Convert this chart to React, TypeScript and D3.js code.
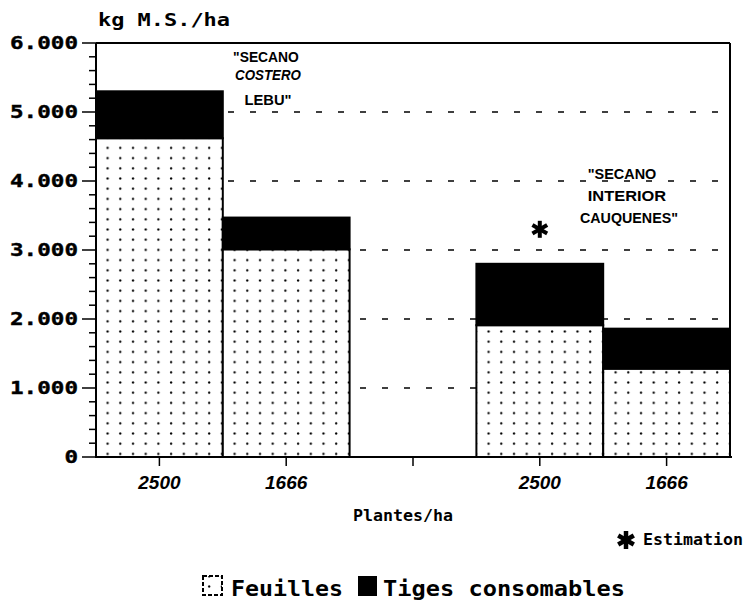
import React, { useEffect, useRef } from 'react';
import * as d3 from 'd3';

const categories = ['c1', 'c2', 'gap', 'c3', 'c4'];
const tickLabels = ['2500', '1666', '', '2500', '1666'];
const feuilles = [4620, 3010, null, 1910, 1280];
const totals = [5300, 3470, null, 2800, 1860];
const yTicks = [0, 1000, 2000, 3000, 4000, 5000, 6000];
const yTickLabels = ['0', '1.000', '2.000', '3.000', '4.000', '5.000', '6.000'];
const estimationValue = 3300;

const W = 747;
const H = 604;
const MONO = '"DejaVu Sans Mono", monospace';
const SANS = '"Liberation Sans", Arial, sans-serif';

function drawStar(g: d3.Selection<SVGGElement, unknown, null, undefined>, x: number, y: number, r: number, w: number) {
  const s = g.append('g').attr('transform', `translate(${x},${y})`);
  [90, 30, -30].forEach((a) => {
    const rad = (a * Math.PI) / 180;
    s.append('line')
      .attr('x1', -r * Math.cos(rad))
      .attr('y1', -r * Math.sin(rad))
      .attr('x2', r * Math.cos(rad))
      .attr('y2', r * Math.sin(rad))
      .attr('stroke', '#000')
      .attr('stroke-width', w);
  });
}

const App: React.FC = () => {
  const svgRef = useRef<SVGSVGElement>(null);

  useEffect(() => {
    if (!svgRef.current) return;
    const svg = d3.select(svgRef.current);
    svg.selectAll('*').remove();

    const left = 96;
    const right = 730;
    const top = 43;
    const bottom = 457;

    // dotted pattern for leaves
    const defs = svg.append('defs');
    const pat = defs
      .append('pattern')
      .attr('id', 'dots')
      .attr('patternUnits', 'userSpaceOnUse')
      .attr('width', 12.7)
      .attr('height', 10.2);
    pat.append('rect').attr('width', 12.7).attr('height', 10.2).attr('fill', '#fff');
    pat.append('circle').attr('cx', 6).attr('cy', 5).attr('r', 1.15).attr('fill', '#000');

    const g = svg.append('g');

    const xScale = d3.scaleBand<string>().domain(categories).range([left, right]).padding(0);
    const yScale = d3.scaleLinear().domain([0, 6000]).range([bottom, top]);

    // dashed gridlines
    g.selectAll('.grid')
      .data(yTicks.filter((d) => d > 0 && d < 6000))
      .enter()
      .append('line')
      .attr('x1', left)
      .attr('x2', right)
      .attr('y1', (d) => yScale(d))
      .attr('y2', (d) => yScale(d))
      .attr('stroke', '#000')
      .attr('stroke-width', 1.5)
      .attr('stroke-dasharray', '6,16');

    // bars
    categories.forEach((c, i) => {
      const f = feuilles[i];
      const t = totals[i];
      if (f === null || t === null) return;
      const x = xScale(c)!;
      const bw = xScale.bandwidth();
      g.append('rect')
        .attr('x', x)
        .attr('y', yScale(f))
        .attr('width', bw)
        .attr('height', yScale(0) - yScale(f))
        .attr('fill', 'url(#dots)')
        .attr('stroke', '#000')
        .attr('stroke-width', 2);
      g.append('rect')
        .attr('x', x)
        .attr('y', yScale(t))
        .attr('width', bw)
        .attr('height', yScale(f) - yScale(t))
        .attr('fill', '#000')
        .attr('stroke', '#000')
        .attr('stroke-width', 2);
    });

    // frame
    g.append('line').attr('x1', left).attr('x2', right).attr('y1', top).attr('y2', top)
      .attr('stroke', '#000').attr('stroke-width', 2);
    g.append('line').attr('x1', right).attr('x2', right).attr('y1', top).attr('y2', bottom)
      .attr('stroke', '#000').attr('stroke-width', 2);
    g.append('line').attr('x1', left).attr('x2', right + 2).attr('y1', bottom).attr('y2', bottom)
      .attr('stroke', '#000').attr('stroke-width', 2);
    g.append('line').attr('x1', left).attr('x2', left).attr('y1', top).attr('y2', bottom)
      .attr('stroke', '#000').attr('stroke-width', 2);

    // y ticks, major and minor
    const minor = d3.range(0, 6001, 200).filter((d) => d % 1000 !== 0);
    g.selectAll('.minor')
      .data(minor)
      .enter()
      .append('line')
      .attr('x1', left - 7)
      .attr('x2', left)
      .attr('y1', (d) => yScale(d))
      .attr('y2', (d) => yScale(d))
      .attr('stroke', '#000')
      .attr('stroke-width', 1.5);
    g.selectAll('.major')
      .data(yTicks)
      .enter()
      .append('line')
      .attr('x1', left - 14)
      .attr('x2', left)
      .attr('y1', (d) => yScale(d))
      .attr('y2', (d) => yScale(d))
      .attr('stroke', '#000')
      .attr('stroke-width', 1.5);
    g.selectAll('.ylab')
      .data(yTicks)
      .enter()
      .append('text')
      .attr('x', 78)
      .attr('y', (d) => yScale(d))
      .attr('dy', '0.36em')
      .attr('text-anchor', 'end')
      .attr('font-family', MONO)
      .attr('font-weight', 'bold')
      .attr('font-size', 18)
      .attr('stroke', '#000')
      .attr('stroke-width', 0.4)
      .attr('textLength', (d, i) => yTickLabels[i].length * 13.6)
      .attr('lengthAdjust', 'spacingAndGlyphs')
      .text((d, i) => yTickLabels[i]);

    // x ticks
    categories.forEach((c, i) => {
      const cx = xScale(c)! + xScale.bandwidth() / 2;
      g.append('line').attr('x1', cx).attr('x2', cx).attr('y1', bottom).attr('y2', bottom + 9)
        .attr('stroke', '#000').attr('stroke-width', 1.5);
      if (tickLabels[i]) {
        g.append('text')
          .attr('x', cx)
          .attr('y', 489)
          .attr('text-anchor', 'middle')
          .attr('font-family', SANS)
          .attr('font-weight', 'bold')
          .attr('font-style', 'italic')
          .attr('font-size', 19)
          .text(tickLabels[i]);
      }
    });

    // axis titles
    g.append('text')
      .attr('x', 98)
      .attr('y', 26)
      .attr('font-family', MONO)
      .attr('font-weight', 'bold')
      .attr('font-size', 17)
      .attr('textLength', 132)
      .attr('lengthAdjust', 'spacingAndGlyphs')
      .text('kg M.S./ha');
    g.append('text')
      .attr('x', 353)
      .attr('y', 521)
      .attr('font-family', MONO)
      .attr('font-weight', 'bold')
      .attr('font-size', 15)
      .attr('textLength', 100)
      .attr('lengthAdjust', 'spacingAndGlyphs')
      .text('Plantes/ha');

    // region annotations
    const ann1 = [
      { t: '"SECANO', x: 266, y: 62, it: false },
      { t: 'COSTERO', x: 268, y: 80, it: true },
      { t: 'LEBU"', x: 268, y: 105, it: false },
    ];
    ann1.forEach((a) => {
      g.append('text')
        .attr('x', a.x)
        .attr('y', a.y)
        .attr('text-anchor', 'middle')
        .attr('font-family', SANS)
        .attr('font-weight', 'bold')
        .attr('font-style', a.it ? 'italic' : 'normal')
        .attr('font-size', 15)
        .attr('textLength', a.t.length * 9.4)
        .attr('lengthAdjust', 'spacingAndGlyphs')
        .text(a.t);
    });
    const ann2 = [
      { t: '"SECANO', x: 622, y: 179 },
      { t: 'INTERIOR', x: 627, y: 201 },
      { t: 'CAUQUENES"', x: 629, y: 223 },
    ];
    ann2.forEach((a) => {
      g.append('text')
        .attr('x', a.x)
        .attr('y', a.y)
        .attr('text-anchor', 'middle')
        .attr('font-family', SANS)
        .attr('font-weight', 'bold')
        .attr('font-size', 15)
        .attr('textLength', a.t.length * 9.8)
        .attr('lengthAdjust', 'spacingAndGlyphs')
        .text(a.t);
    });

    // estimation star
    const sx = xScale('c3')! + xScale.bandwidth() / 2;
    drawStar(g, sx, yScale(estimationValue), 8.5, 4);

    // estimation legend
    drawStar(g, 626, 540, 9, 4.5);
    g.append('text')
      .attr('x', 643)
      .attr('y', 545)
      .attr('font-family', MONO)
      .attr('font-weight', 'bold')
      .attr('font-size', 15)
      .attr('textLength', 100)
      .attr('lengthAdjust', 'spacingAndGlyphs')
      .text('Estimation');

    // legend
    g.append('rect').attr('x', 203).attr('y', 576).attr('width', 19).attr('height', 19)
      .attr('fill', 'url(#dots)').attr('stroke', '#000').attr('stroke-width', 2)
      .attr('stroke-dasharray', '4,2');
    g.append('text')
      .attr('x', 231)
      .attr('y', 596)
      .attr('font-family', MONO)
      .attr('font-weight', 'bold')
      .attr('font-size', 21)
      .attr('textLength', 112)
      .attr('lengthAdjust', 'spacingAndGlyphs')
      .text('Feuilles');
    g.append('rect').attr('x', 358).attr('y', 576).attr('width', 19).attr('height', 20)
      .attr('fill', '#000');
    g.append('text')
      .attr('x', 383)
      .attr('y', 596)
      .attr('font-family', MONO)
      .attr('font-weight', 'bold')
      .attr('font-size', 21)
      .attr('textLength', 242)
      .attr('lengthAdjust', 'spacingAndGlyphs')
      .text('Tiges consomables');
  }, []);

  return (
    <svg
      ref={svgRef}
      width={W}
      height={H}
      style={{ position: 'absolute', left: 0, top: 0, background: '#fff' }}
    />
  );
};

export default App;
